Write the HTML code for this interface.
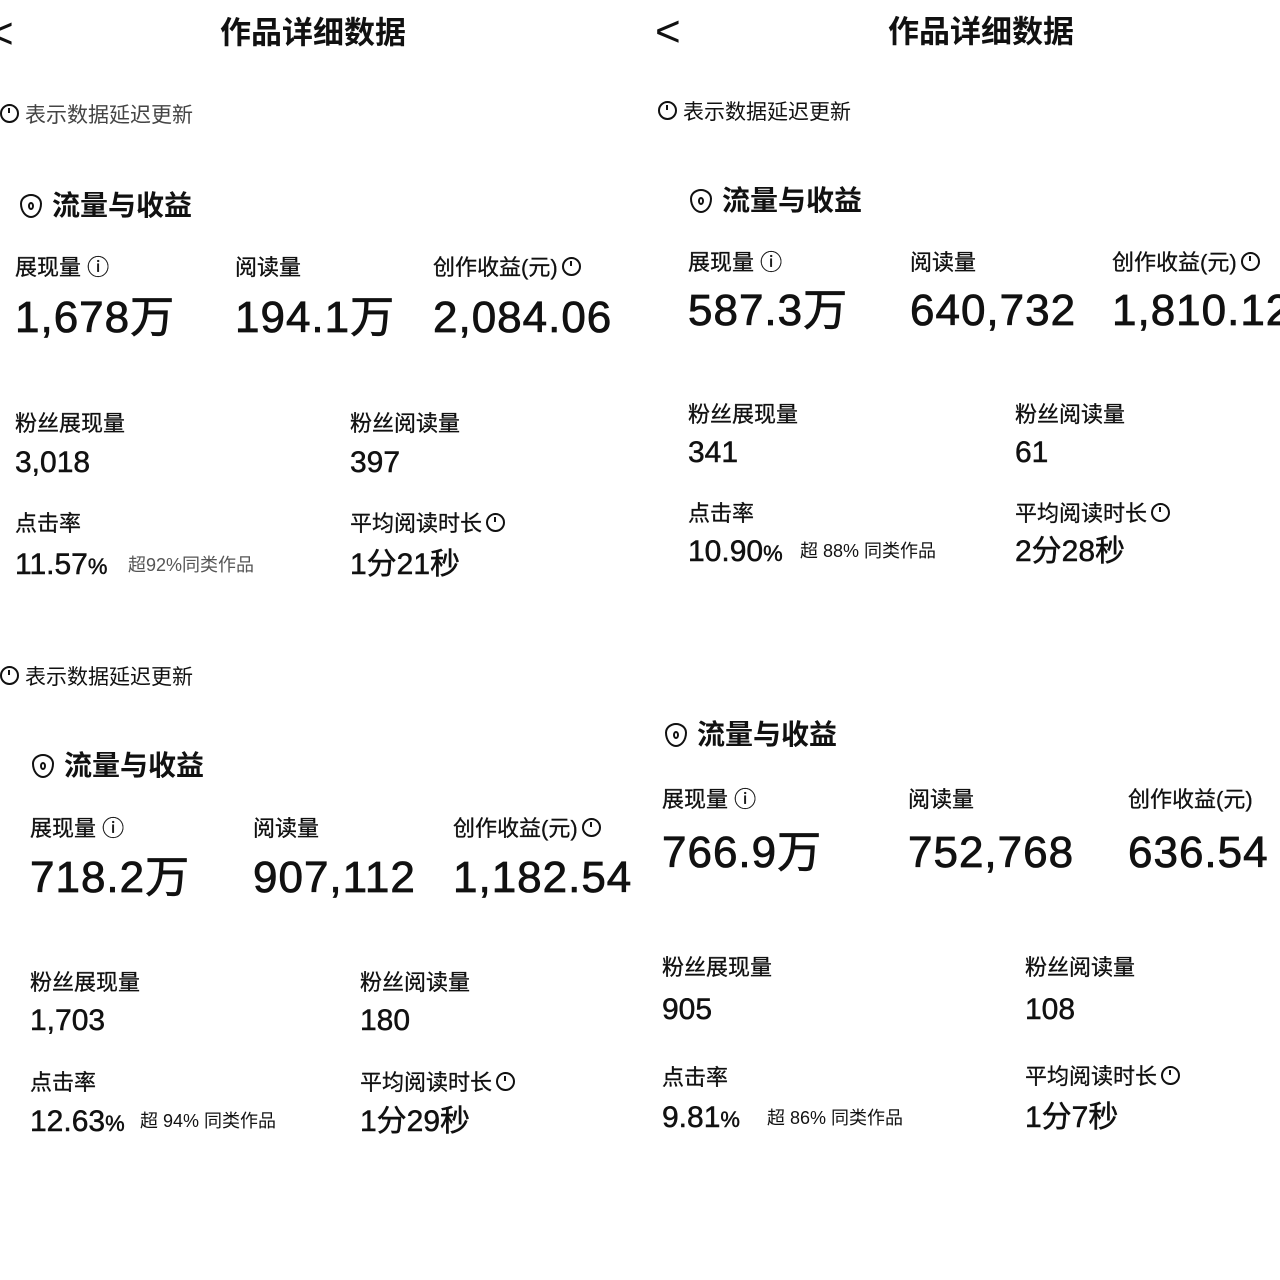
<!DOCTYPE html>
<html><head><meta charset="utf-8">
<style>
html,body{margin:0;padding:0;background:#fff;}
#root{position:relative;width:1280px;height:1280px;overflow:hidden;background:#fff;color:#111;font-family:"Liberation Sans","Noto Sans CJK SC",sans-serif;}
.t{position:absolute;white-space:nowrap;line-height:1;transform:translateY(-50%);}
.title{font-size:31px;font-weight:bold;}
.sec{font-size:28px;font-weight:bold;}
.lab{font-size:22px;-webkit-text-stroke:0.3px #111;}
.big{font-size:44px;letter-spacing:1px;-webkit-text-stroke:0.8px #111;}
.mid{font-size:30px;-webkit-text-stroke:0.5px #111;}
.sm{font-size:18px;}
.dly{font-size:21px;}
.back{font-size:44px;font-weight:300;}
.pct{font-size:22px;}
.clk{display:inline-block;width:15px;height:15px;border:2px solid #111;border-radius:50%;position:relative;vertical-align:-1px;margin-left:4px;}
.clk::after{content:"";position:absolute;left:6px;top:2px;width:2px;height:5px;background:#111;}
.ico{display:inline-block;width:22px;height:24px;border:2.5px solid #111;border-radius:50% 50% 50% 50%/40% 40% 60% 60%;vertical-align:-3px;margin-right:10px;box-sizing:border-box;position:relative;}
.ico::after{content:"";position:absolute;left:6px;top:6px;width:6px;height:8px;border:2px solid #111;border-radius:50%;box-sizing:border-box;}
</style></head><body>
<div id="root">

<!-- top-left -->
<div class="t back" style="left:-12px;top:34px">&lt;</div>
<div class="t title" style="left:220px;top:33px">作品详细数据</div>
<div class="t dly" style="left:0px;top:115px;color:#444"><span class="clk" style="margin:0 6px 0 0"></span>表示数据延迟更新</div>
<div class="t sec" style="left:20px;top:206px"><span class="ico"></span>流量与收益</div>
<div class="t lab" style="left:15px;top:268px">展现量 ⓘ</div>
<div class="t lab" style="left:235px;top:268px">阅读量</div>
<div class="t lab" style="left:433px;top:268px">创作收益(元)<span class="clk"></span></div>
<div class="t big" style="left:15px;top:318px">1,678万</div>
<div class="t big" style="left:235px;top:318px">194.1万</div>
<div class="t big" style="left:433px;top:318px">2,084.06</div>
<div class="t lab" style="left:15px;top:424px">粉丝展现量</div>
<div class="t lab" style="left:350px;top:424px">粉丝阅读量</div>
<div class="t mid" style="left:15px;top:463px">3,018</div>
<div class="t mid" style="left:350px;top:463px">397</div>
<div class="t lab" style="left:15px;top:524px">点击率</div>
<div class="t lab" style="left:350px;top:524px">平均阅读时长<span class="clk"></span></div>
<div class="t mid" style="left:15px;top:565px">11.57<span class="pct">%</span></div>
<div class="t sm" style="left:128px;top:565px;color:#555">超92%同类作品</div>
<div class="t mid" style="left:350px;top:565px">1分21秒</div>

<!-- bottom-left -->
<div class="t dly" style="left:0px;top:677px"><span class="clk" style="margin:0 6px 0 0"></span>表示数据延迟更新</div>
<div class="t sec" style="left:32px;top:766px"><span class="ico"></span>流量与收益</div>
<div class="t lab" style="left:30px;top:829px">展现量 ⓘ</div>
<div class="t lab" style="left:253px;top:829px">阅读量</div>
<div class="t lab" style="left:453px;top:829px">创作收益(元)<span class="clk"></span></div>
<div class="t big" style="left:30px;top:878px">718.2万</div>
<div class="t big" style="left:253px;top:878px">907,112</div>
<div class="t big" style="left:453px;top:878px">1,182.54</div>
<div class="t lab" style="left:30px;top:983px">粉丝展现量</div>
<div class="t lab" style="left:360px;top:983px">粉丝阅读量</div>
<div class="t mid" style="left:30px;top:1021px">1,703</div>
<div class="t mid" style="left:360px;top:1021px">180</div>
<div class="t lab" style="left:30px;top:1083px">点击率</div>
<div class="t lab" style="left:360px;top:1083px">平均阅读时长<span class="clk"></span></div>
<div class="t mid" style="left:30px;top:1122px">12.63<span class="pct">%</span></div>
<div class="t sm" style="left:140px;top:1121px">超 94% 同类作品</div>
<div class="t mid" style="left:360px;top:1122px">1分29秒</div>

<!-- top-right -->
<div class="t back" style="left:655px;top:32px">&lt;</div>
<div class="t title" style="left:888px;top:32px">作品详细数据</div>
<div class="t dly" style="left:658px;top:112px"><span class="clk" style="margin:0 6px 0 0"></span>表示数据延迟更新</div>
<div class="t sec" style="left:690px;top:201px"><span class="ico"></span>流量与收益</div>
<div class="t lab" style="left:688px;top:263px">展现量 ⓘ</div>
<div class="t lab" style="left:910px;top:263px">阅读量</div>
<div class="t lab" style="left:1112px;top:263px">创作收益(元)<span class="clk"></span></div>
<div class="t big" style="left:688px;top:311px">587.3万</div>
<div class="t big" style="left:910px;top:311px">640,732</div>
<div class="t big" style="left:1112px;top:311px">1,810.12</div>
<div class="t lab" style="left:688px;top:415px">粉丝展现量</div>
<div class="t lab" style="left:1015px;top:415px">粉丝阅读量</div>
<div class="t mid" style="left:688px;top:453px">341</div>
<div class="t mid" style="left:1015px;top:453px">61</div>
<div class="t lab" style="left:688px;top:514px">点击率</div>
<div class="t lab" style="left:1015px;top:514px">平均阅读时长<span class="clk"></span></div>
<div class="t mid" style="left:688px;top:552px">10.90<span class="pct">%</span></div>
<div class="t sm" style="left:800px;top:551px">超 88% 同类作品</div>
<div class="t mid" style="left:1015px;top:552px">2分28秒</div>

<!-- bottom-right -->
<div class="t sec" style="left:665px;top:735px"><span class="ico"></span>流量与收益</div>
<div class="t lab" style="left:662px;top:800px">展现量 ⓘ</div>
<div class="t lab" style="left:908px;top:800px">阅读量</div>
<div class="t lab" style="left:1128px;top:800px">创作收益(元)</div>
<div class="t big" style="left:662px;top:853px">766.9万</div>
<div class="t big" style="left:908px;top:853px">752,768</div>
<div class="t big" style="left:1128px;top:853px">636.54</div>
<div class="t lab" style="left:662px;top:968px">粉丝展现量</div>
<div class="t lab" style="left:1025px;top:968px">粉丝阅读量</div>
<div class="t mid" style="left:662px;top:1010px">905</div>
<div class="t mid" style="left:1025px;top:1010px">108</div>
<div class="t lab" style="left:662px;top:1078px">点击率</div>
<div class="t lab" style="left:1025px;top:1077px">平均阅读时长<span class="clk"></span></div>
<div class="t mid" style="left:662px;top:1118px">9.81<span class="pct">%</span></div>
<div class="t sm" style="left:767px;top:1118px">超 86% 同类作品</div>
<div class="t mid" style="left:1025px;top:1118px">1分7秒</div>

</div>
</body></html>
